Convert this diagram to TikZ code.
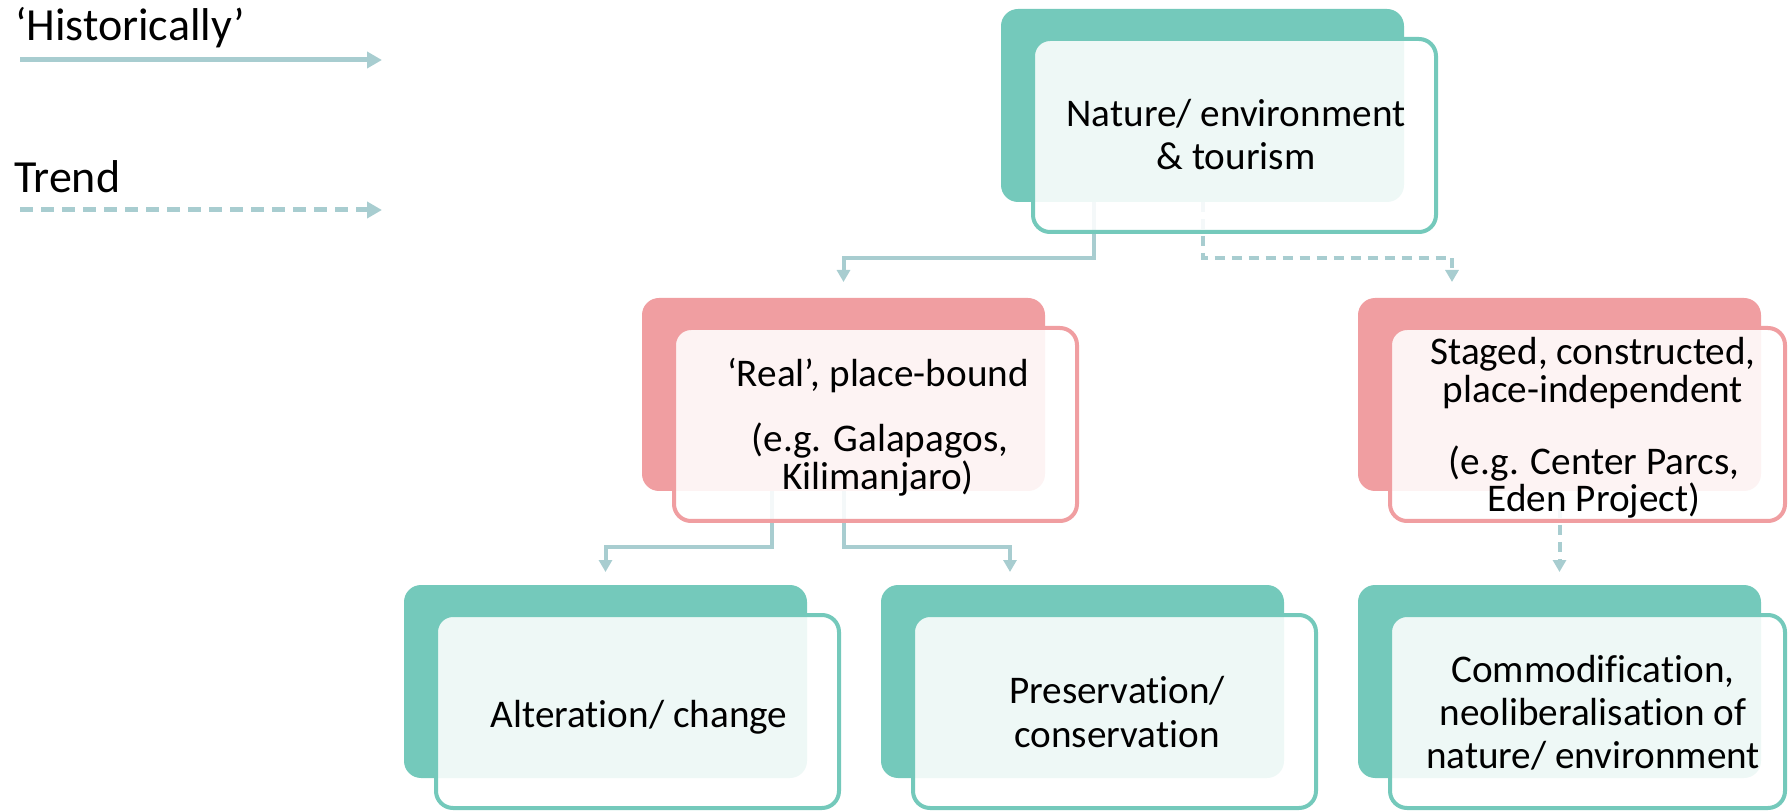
\documentclass[tikz,border=0pt]{standalone}
\usepackage{fontspec}
\setmainfont{Carlito}[Ligatures=NoCommon]
\usetikzlibrary{arrows.meta}

\definecolor{tealbox}{HTML}{74C9BB}
\definecolor{pinkbox}{HTML}{F09EA1}
\definecolor{linkcol}{HTML}{A8CDD0}

\begin{document}
\begin{tikzpicture}[x=0.5pt,y=-0.5pt,
  backbox/.style={rounded corners=8.5pt, minimum width=201.5pt, minimum height=96.5pt,
                  inner sep=0pt, outer sep=0pt},
  frontbox/.style={backbox, fill=white, fill opacity=0.88, line width=2pt},
  tback/.style={backbox, fill=tealbox},
  pback/.style={backbox, fill=pinkbox},
  tfront/.style={frontbox, draw=tealbox},
  pfront/.style={frontbox, draw=pinkbox},
  narrow/.style={minimum width=197.5pt},
  lbl/.style={anchor=base, inner sep=0pt, outer sep=0pt, font=\fontsize{19.6}{23}\selectfont},
  keylbl/.style={lbl, anchor=base west, font=\fontsize{23}{27}\selectfont},
  conn/.style={draw=linkcol, line width=2pt, -{Triangle[width=6.5pt,length=6pt]}},
  dashconn/.style={conn, dash pattern=on 5pt off 3.5pt},
  legend/.style={draw=linkcol, line width=2.5pt, -{Triangle[width=8pt,length=7.5pt]}},
  dashlegend/.style={legend, dash pattern=on 6.5pt off 4pt}]

\useasboundingbox (0,0) rectangle (1789,812);

% legend
\node[keylbl] (hist) at (15,41) {‘Historically’};
\coordinate (h0) at (20,60);
\coordinate (h1) at (382,60);
\draw[legend] (h0) -- (h1);
\node[keylbl] (trend) at (14,193) {Trend};
\coordinate (t0) at (20,210);
\coordinate (t1) at (382,210);
\draw[dashlegend] (t0) -- (t1);

% back shapes
\node[tback] (b0)  at (1202.5,105.5) {};
\node[pback] (bl)  at (843.5,394.5) {};
\node[pback] (br)  at (1559.5,394.5) {};
\node[tback] (bbl) at (605.5,681.5) {};
\node[tback] (bbm) at (1082.5,681.5) {};
\node[tback] (bbr) at (1559.5,681.5) {};

% connectors
\draw[conn] ([xshift=-54.5pt]b0.south) |- ([yshift=20pt]bl.north) -- ([yshift=8pt]bl.north);
\draw[dashconn] (b0.south) |- ([xshift=-53.75pt,yshift=20pt]br.north)
                -- ([xshift=-53.75pt,yshift=8pt]br.north);
\draw[conn] ([xshift=-35.75pt]bl.south) |- ([yshift=19pt]bbl.north) -- ([yshift=6.5pt]bbl.north);
\draw[conn] (bl.south) |- ([xshift=-36.25pt,yshift=19pt]bbm.north)
            -- ([xshift=-36.25pt,yshift=6.5pt]bbm.north);
\draw[dashconn] (br.south) -- ([yshift=6.5pt]bbr.north);

% front shapes
\node[tfront] (f0)  at (1234.5,135.5) {};
\node[pfront] (fl)  at (875.5,424.5) {};
\node[pfront, narrow] (fr)  at (1587.5,424.5) {};
\node[tfront] (fbl) at (637.5,711.5) {};
\node[tfront] (fbm) at (1114.5,711.5) {};
\node[tfront, narrow] (fbr) at (1587.5,711.5) {};

% labels
\node[lbl] (n0a) at (1236,127) {Nature/ environment};
\node[lbl] (n0b) at (1236,170) {\& tourism};

\node[lbl] (nla) at (878,387) {‘Real’, place-bound};
\node[lbl] (nlb) at (880,452) {(e.g. Galapagos,};
\node[lbl] (nlc) at (878,490) {Kilimanjaro)};

\node[lbl] (nra) at (1593,365) {Staged, constructed,};
\node[lbl] (nrb) at (1593,403) {place-independent};
\node[lbl] (nrc) at (1594,475) {(e.g. Center Parcs,};
\node[lbl] (nrd) at (1594,512) {Eden Project)};

\node[lbl] (nbl) at (639,727) {Alteration/ change};

\node[lbl] (nbma) at (1117,703) {Preservation/};
\node[lbl] (nbmb) at (1117,747) {conservation};

\node[lbl] (nbra) at (1593,682) {Commodification,};
\node[lbl] (nbrb) at (1593,725) {neoliberalisation of};
\node[lbl] (nbrc) at (1593,768) {nature/ environment};
\end{tikzpicture}
\end{document}
